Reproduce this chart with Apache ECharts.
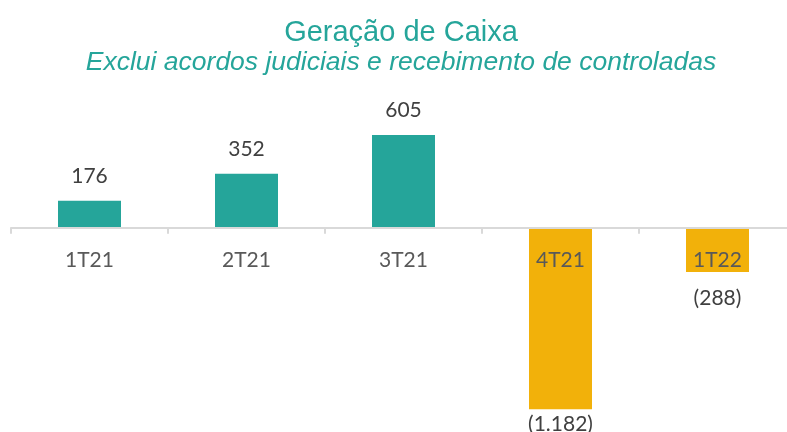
<!DOCTYPE html>
<html>
<head>
<meta charset="utf-8">
<script src="https://cdn.jsdelivr.net/npm/echarts@6/dist/echarts.min.js"></script>
<style>html,body{margin:0;padding:0;background:#fff}#c{width:787px;height:432px}</style>
</head>
<body>
<div id="c"></div>
<script>
const categories = ['1T21', '2T21', '3T21', '4T21', '1T22'];
const values = [176, 352, 605, -1182, -288];
const titleText = 'Geração de Caixa';
const subtitleText = 'Exclui acordos judiciais e recebimento de controladas';

const teal = '#25A59A';
const gold = '#F2B10A';
const yMin = -1300, yMax = 800;
const gridTop = 105, gridHeight = 322.3;
const zeroOffset = -gridHeight * (0 - yMin) / (yMax - yMin);

function fmt(v) {
  const s = Math.abs(v).toString().replace(/\B(?=(\d{3})+(?!\d))/g, '.');
  return v < 0 ? '(' + s + ')' : s;
}

const chart = echarts.init(document.getElementById('c'));
chart.setOption({
  backgroundColor: '#fff',
  animation: false,
  title: {
    text: titleText,
    subtext: subtitleText,
    left: 396,
    textAlign: 'center',
    top: 13,
    itemGap: 2,
    textStyle: { fontFamily: 'Liberation Sans', fontSize: 29, fontWeight: 'normal', color: teal },
    subtextStyle: { fontFamily: 'Liberation Sans', fontSize: 26.5, fontStyle: 'italic', color: teal }
  },
  grid: { left: 11, right: -9, top: gridTop, height: gridHeight, outerBoundsMode: 'none', containLabel: false },
  xAxis: {
    type: 'category',
    data: categories,
    position: 'bottom',
    offset: zeroOffset,
    z: 10,
    axisLine: { onZero: false, lineStyle: { color: '#d9d9d9', width: 2 } },
    axisTick: { show: true, length: 6, lineStyle: { color: '#d9d9d9', width: 2 } },
    axisLabel: { show: true, margin: 22, fontFamily: 'Lato', fontSize: 21, color: '#595959' }
  },
  yAxis: {
    type: 'value', min: yMin, max: yMax,
    axisLine: { show: false }, axisTick: { show: false },
    axisLabel: { show: false }, splitLine: { show: false }
  },
  series: [{
    type: 'bar',
    barWidth: 63,
    data: values.map((v, i) => ({
      value: v,
      itemStyle: { color: v < 0 ? gold : teal },
      label: {
        position: v < 0 ? 'bottom' : 'top',
        distance: v < 0 ? (i === 3 ? 5 : 16) : 14
      }
    })),
    label: {
      show: true,
      formatter: p => fmt(p.value),
      fontFamily: 'Lato', fontSize: 21, color: '#404040'
    }
  }]
});
</script>
</body>
</html>
